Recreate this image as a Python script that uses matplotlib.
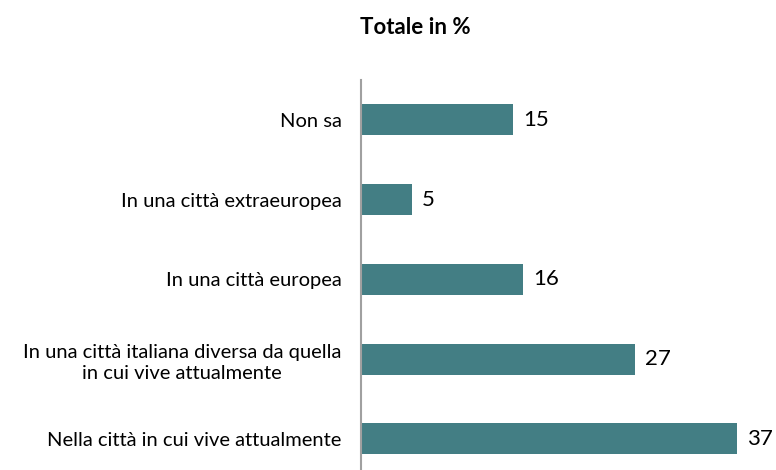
import matplotlib.pyplot as plt

plt.rcParams["font.family"] = ["Lato", "DejaVu Sans"]

categories = [
    "Nella città in cui vive attualmente",
    "In una città italiana diversa da quella\nin cui vive attualmente",
    "In una città europea",
    "In una città extraeuropea",
    "Non sa",
]
values = [37, 27, 16, 5, 15]
bar_color = "#437E84"

fig = plt.figure(figsize=(7.76, 4.70), dpi=100)
ax = fig.add_axes([361 / 776, 0, 406 / 776, 390 / 470])

pos = list(range(len(categories)))
ax.barh(pos, values, height=0.39, color=bar_color)
for p, v in zip(pos, values):
    ax.text(v + 1.0, p, str(v), va="center", ha="left", fontsize=16, color="black")

ax.set_xlim(0, 40)
ax.set_ylim(-0.39, 4.5)
ax.set_yticks(pos)
ax.set_yticklabels(categories, fontsize=14.5, multialignment="center",
                   linespacing=1.3)
ax.tick_params(axis="y", length=0, pad=14)
ax.set_xticks([])
for s in ["top", "right", "bottom"]:
    ax.spines[s].set_visible(False)
ax.spines["left"].set_color("#A0A0A0")
ax.spines["left"].set_linewidth(1.5)

fig.text(415 / 776, 1 - 28 / 470, "Totale in %", ha="center", va="center",
         fontsize=16, fontweight="bold")

fig.savefig("out.png", dpi=100)
